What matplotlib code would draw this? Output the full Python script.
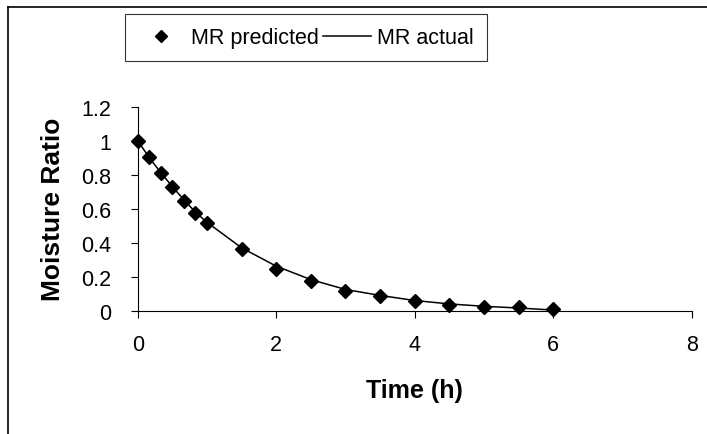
import matplotlib.pyplot as plt
from matplotlib.lines import Line2D

plt.rcParams['font.family'] = ['Liberation Sans', 'DejaVu Sans']

# Data
time_h = [0, 0.1667, 0.3333, 0.5, 0.6667, 0.8333, 1.0, 1.5, 2.0, 2.5, 3.0, 3.5, 4.0, 4.5, 5.0, 5.5, 6.0]
mr_predicted = [1.0, 0.902, 0.81, 0.725, 0.647, 0.573, 0.516, 0.363, 0.245, 0.176, 0.118, 0.084, 0.059, 0.035, 0.024, 0.02, 0.01]
mr_actual = [1.0, 0.9, 0.812, 0.73, 0.652, 0.58, 0.52, 0.37, 0.262, 0.183, 0.125, 0.09, 0.06, 0.04, 0.026, 0.016, 0.004]

x_ticks = [0, 2, 4, 6, 8]
y_ticks = [0, 0.2, 0.4, 0.6, 0.8, 1.0, 1.2]
y_tick_labels = ['0', '0.2', '0.4', '0.6', '0.8', '1', '1.2']

fig = plt.figure(figsize=(7.07, 4.35), dpi=100)
ax = fig.add_axes([0.1948, 0.2834, 0.7836, 0.469])

ax.plot(time_h, mr_predicted, linestyle='none', marker='D', markersize=7.5,
        color='black', label='MR predicted', zorder=3)
ax.plot(time_h, mr_actual, '-', color='black', linewidth=1.1, label='MR actual')

ax.set_xlim(0, 8)
ax.set_ylim(0, 1.2)
ax.set_xticks(x_ticks)
ax.set_xticklabels([str(t) for t in x_ticks])
ax.set_yticks(y_ticks)
ax.set_yticklabels(y_tick_labels)
ax.tick_params(direction='out', length=5, width=0.8, labelsize=15.5, pad=14)
ax.tick_params(axis='x', pad=12)

for side in ['top', 'right']:
    ax.spines[side].set_visible(False)
for side in ['left', 'bottom']:
    ax.spines[side].set_linewidth(0.8)
for ln in ax.lines:
    ln.set_clip_on(False)

ax.set_xlabel('Time (h)', fontsize=18, fontweight='bold', labelpad=16)
ax.set_ylabel('Moisture Ratio', fontsize=19, fontweight='bold', labelpad=12)

leg = fig.legend(loc='center', bbox_to_anchor=(0.4325, 0.911), ncol=2, fontsize=15.5,
                 frameon=True, fancybox=False, handlelength=2.2, handletextpad=0.3,
                 columnspacing=0.2, borderpad=0.6, borderaxespad=0, markerscale=0.75)
leg.get_frame().set_edgecolor('black')
leg.get_frame().set_linewidth(0.8)

# outer chart frame (left and top edges visible)
fig.add_artist(Line2D([0.0113, 0.0113], [0, 0.9816], color='black', linewidth=1.2, transform=fig.transFigure))
fig.add_artist(Line2D([0.0113, 1.0], [0.9816, 0.9816], color='black', linewidth=1.2, transform=fig.transFigure))

plt.savefig('out.png', dpi=100)
